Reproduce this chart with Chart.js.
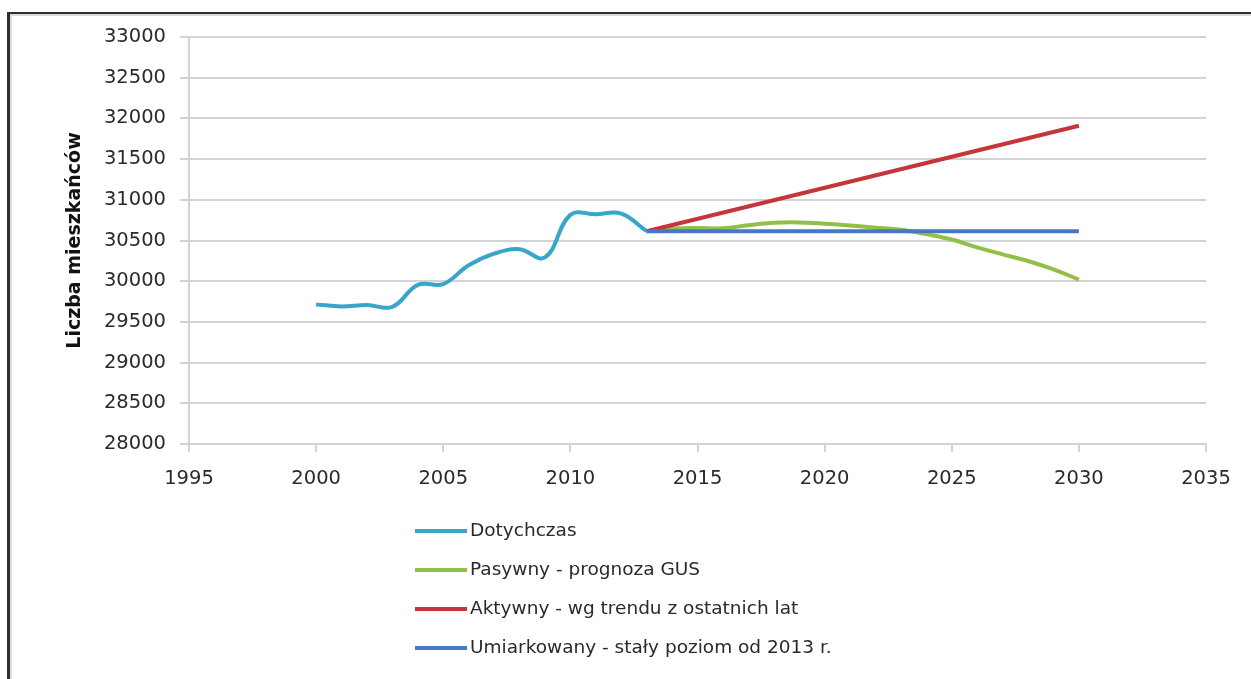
<!DOCTYPE html>
<html>
<head>
<meta charset="utf-8">
<script src="https://cdn.jsdelivr.net/npm/chart.js@4"></script>
<style>
  html, body { margin: 0; padding: 0; background: #fff; }
  #wrap { width: 1251px; height: 679px; position: relative; }
</style>
</head>
<body>
<div id="wrap"><canvas id="c" width="1251" height="679"></canvas></div>
<script>
// ---- data ----
const histYears = [2000, 2001, 2002, 2003, 2004, 2005, 2006, 2007, 2008, 2009, 2010, 2011, 2012, 2013];
const histValues = [29715, 29690, 29708, 29685, 29955, 29965, 30195, 30338, 30393, 30292, 30815, 30822, 30830, 30614];

const gusYears = [2013, 2014, 2015, 2016, 2017, 2018, 2019, 2020, 2021, 2022, 2023, 2024, 2025, 2026, 2027, 2028, 2029, 2030];
const gusValues = [30614, 30648, 30655, 30650, 30688, 30718, 30722, 30706, 30685, 30658, 30632, 30578, 30512, 30415, 30330, 30248, 30145, 30020];

const trendYears = [2013, 2030];
const trendValues = [30614, 31910];

const flatYears = [2013, 2030];
const flatValues = [30614, 30614];

const seriesLabels = [
  'Dotychczas',
  'Pasywny - prognoza GUS',
  'Aktywny - wg trendu z ostatnich lat',
  'Umiarkowany - stały poziom od 2013 r.'
];
const yAxisTitle = 'Liczba mieszkańców';
const xMin = 1995, xMax = 2035, xStep = 5;
const yMin = 28000, yMax = 33000, yStep = 500;

// ---- helpers ----
const pts = (xs, ys) => xs.map((x, i) => ({ x: x, y: ys[i] }));
const colors = ['#37a6c8', '#92bf48', '#c5353a', '#4677c6'];
const FONT = '"DejaVu Sans", sans-serif';
const TEXT = '#2a2a2a';
const GRID = '#d3d3d3';

const framePlugin = {
  id: 'frame',
  beforeDraw(chart) {
    const ctx = chart.ctx;
    ctx.save();
    ctx.fillStyle = '#ffffff';
    ctx.fillRect(0, 0, chart.width, chart.height);
    ctx.fillStyle = '#2e2e2e';
    ctx.fillRect(7, 12, chart.width - 7, 2);
    ctx.fillRect(7, 12, 3, chart.height - 12);
    ctx.fillStyle = '#dcdcdc';
    ctx.fillRect(10, 14, chart.width - 10, 2);
    ctx.fillRect(10, 14, 2, chart.height - 14);
    ctx.restore();
  }
};

const legendPlugin = {
  id: 'vlegend',
  afterDraw(chart) {
    const ctx = chart.ctx;
    const x0 = 415, x1 = 467, tx = 470, y0 = 531, dy = 39;
    ctx.save();
    ctx.font = '18.5px ' + FONT;
    ctx.textBaseline = 'middle';
    ctx.textAlign = 'left';
    chart.data.datasets.forEach((ds, i) => {
      const y = y0 + i * dy;
      ctx.strokeStyle = ds.borderColor;
      ctx.lineWidth = 4;
      ctx.beginPath();
      ctx.moveTo(x0, y);
      ctx.lineTo(x1, y);
      ctx.stroke();
      ctx.fillStyle = TEXT;
      ctx.fillText(ds.label, tx, y);
    });
    ctx.restore();
  }
};

const mk = (i, data, order) => ({
  label: seriesLabels[i],
  data: data,
  borderColor: colors[i],
  backgroundColor: colors[i],
  borderWidth: 4,
  pointRadius: 0,
  pointHoverRadius: 0,
  tension: 0.4,
  fill: false,
  order: order
});

new Chart(document.getElementById('c'), {
  type: 'line',
  data: {
    datasets: [
      mk(0, pts(histYears, histValues), 3),
      mk(1, pts(gusYears, gusValues), 2),
      mk(2, pts(trendYears, trendValues), 1),
      mk(3, pts(flatYears, flatValues), 0)
    ]
  },
  options: {
    responsive: false,
    animation: false,
    events: [],
    layout: { padding: { left: 0, top: 37, right: 45, bottom: 175 } },
    plugins: {
      legend: { display: false },
      tooltip: { enabled: false },
      title: { display: false }
    },
    scales: {
      x: {
        type: 'linear',
        min: xMin, max: xMax,
        afterFit(scale) { scale.height = 60; },
        ticks: {
          stepSize: xStep,
          autoSkip: false,
          maxRotation: 0,
          padding: 15,
          color: TEXT,
          font: { family: FONT, size: 19.5 },
          callback: v => String(v)
        },
        grid: { drawOnChartArea: false, drawTicks: true, tickLength: 8, color: GRID, lineWidth: 2 },
        border: { display: true, color: GRID, width: 2 }
      },
      y: {
        min: yMin, max: yMax,
        afterFit(scale) { scale.width = 189; },
        ticks: {
          stepSize: yStep,
          padding: 14,
          color: TEXT,
          font: { family: FONT, size: 19.5 },
          callback: v => String(v)
        },
        grid: { drawTicks: true, tickLength: 9, color: GRID, lineWidth: 2 },
        border: { display: true, color: GRID, width: 2 },
        title: {
          display: true,
          text: yAxisTitle,
          color: '#111111',
          font: { family: FONT, size: 19, weight: 'bold' },
          padding: { top: 64, bottom: 0 }
        }
      }
    }
  },
  plugins: [framePlugin, legendPlugin]
});
</script>
</body>
</html>
